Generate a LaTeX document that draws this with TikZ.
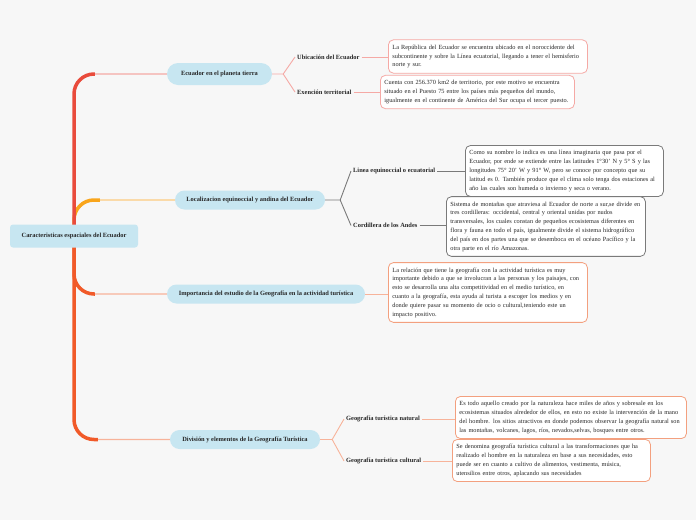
\documentclass[tikz,border=0pt]{standalone}
\usepackage{fontspec}
\setmainfont{Liberation Serif}
\usetikzlibrary{positioning,backgrounds}
\definecolor{bgc}{HTML}{F7F7F7}
\definecolor{topicc}{HTML}{C7E6F1}
\definecolor{trunkred}{HTML}{E94B3C}
\definecolor{trunkorange}{HTML}{F15A29}
\definecolor{trunkyellow}{HTML}{F9A51B}
\definecolor{pinkline}{HTML}{F5A9A5}
\definecolor{yellowline}{HTML}{FCCB80}
\definecolor{grayline}{HTML}{7A7A7A}
\definecolor{salmonline}{HTML}{F7B39A}
\definecolor{salmonbox}{HTML}{F3A07F}
\begin{document}
\begin{tikzpicture}[x=1pt, y=-1pt,
   font=\fontsize{6.3}{8.8}\selectfont,
   topic/.style={fill=topicc, text=black!85, font=\fontsize{6.4}{7}\selectfont\bfseries,
     inner xsep=8, minimum height=19, rounded corners=9.5},
   sublabel/.style={font=\fontsize{6.4}{7}\selectfont\bfseries, text=black!85, inner sep=2, anchor=west},
   note/.style={draw=#1, fill=white, rounded corners=5, line width=0.8, inner xsep=4, inner ysep=5,
     align=left, anchor=west, text=black!85},
   link/.style={draw=#1, line width=1.2, rounded corners=20},
   sublink/.style={draw=#1, line width=0.9},
   trunk/.style={draw=#1, line width=3.5, rounded corners=20}]

  % root and main topics
  \node[fill=topicc, rounded corners=3, minimum width=128, minimum height=23, text=black!85,
    font=\fontsize{6.4}{7}\selectfont\bfseries] (root) at (74,236) {Caracteristicas espaciales del Ecuador};
  \node[topic, minimum width=105, minimum height=22, rounded corners=11] (b1) at (219.5,74) {Ecuador en el planeta tierra};
  \node[topic, minimum width=150] (b2) at (250,200) {Localizacion equinoccial y andina del Ecuador};
  \node[topic, minimum width=198] (b3) at (266,294) {Importancia del estudio de la Geografía en la actividad turística};
  \node[topic, minimum width=150] (b4) at (245,439.5) {División y elementos de la Geografía Turística};

  % sub topics
  \node[sublabel] (s11) at (295,57) {Ubicación del Ecuador};
  \node[sublabel] (s12) at (295,92) {Exención territorial};
  \node[sublabel] (s21) at (351,171) {Linea equinoccial o ecuatorial};
  \node[sublabel] (s22) at (351,225.5) {Cordillera de los Andes};
  \node[sublabel] (s41) at (344,419) {Geografía turística natural};
  \node[sublabel] (s42) at (344,461) {Geografía turística cultural};

  % notes
  \node[note=pinkline, text width=191] (d11) at (388,56.5) {La República del Ecuador se encuentra ubicado en el noroccidente del\\
    subcontinente y  sobre la Línea ecuatorial, llegando a tener el hemisferio\\
    norte y sur.};
  \node[note=pinkline, text width=186] (d12) at (380,92) {Cuenta con 256.370 km2 de territorio, por este motivo se encuentra\\
    situado en el Puesto 75 entre los países más pequeños del mundo,\\
    igualmente en el continente de América del Sur ocupa el tercer puesto.};
  \node[note=grayline, text width=190] (d21) at (465,171) {Como su nombre lo indica es una línea imaginaria que pasa por el\\
    Ecuador, por ende se extiende entre las latitudes 1°30' N y 5° S y las\\
    longitudes 75° 20' W  y 91° W, pero se conoce por concepto que su\\
    latitud es 0. También produce que el clima solo tenga dos estaciones al\\
    año las cuales son humeda o invierno y seca o verano.};
  \node[note=grayline, text width=191] (d22) at (446,226.5) {Sistema de montañas que atraviesa al Ecuador de norte a sur,se divide en\\
    tres cordilleras: occidental, central y oriental unidas por nudos\\
    transversales, los cuales constan de pequeños ecosistemas diferentes en\\
    flora y fauna en todo el país, igualmente divide el sistema hidrográfico\\
    del país en dos partes una que se desemboca en el océano Pacífico y la\\
    otra parte en el río Amazonas.};
  \node[note=salmonbox, text width=191] (d3) at (388,292.5) {La relación que tiene la geografía con la actividad turística es muy\\
    importante debido a que se involucran a las personas y los paisajes, con\\
    esto se desarrolla una alta competitividad  en el medio turístico, en\\
    cuanto a la geografía, esta ayuda al turista a escoger los medios y en\\
    donde quiere pasar su momento de ocio o cultural,teniendo este un\\
    impacto positivo.};
  \node[note=salmonbox, text width=223] (d41) at (455,417.5) {Es todo aquello creado por la naturaleza hace miles de años y sobresale en los\\
    ecosistemas situados alrededor de ellos, en esto no existe la intervención de la mano\\
    del hombre. los sitios atractivos en donde podemos observar la geografía natural son\\
    las montañas, volcanes, lagos, ríos, nevados,selvas, bosques entre otros.};
  \node[note=salmonbox, text width=190] (d42) at (452,460.5) {Se denomina geografía turística cultural a las transformaciones que ha\\
    realizado el hombre en la naturaleza en base a sus necesidades, esto\\
    puede ser en cuanto a cultivo de alimentos, vestimenta, música,\\
    utensilios entre otros, aplacando sus necesidades};

  \begin{pgfonlayer}{background}
    \fill[bgc] (0,0) rectangle (696,520);
    % branches from the trunk
    \draw[link=pinkline] (b1.west) -| (root.center);
    \draw[link=yellowline] (b2.west) -| (root.center);
    \draw[link=salmonline] (b3.west) -| (root.center);
    \draw[link=salmonline] (b4.west) -| (root.center);
    \draw[trunk=trunkyellow] ([xshift=-75]b2.west) -| (root.center);
    \draw[trunk=trunkred] ([xshift=-72]b1.west) -| (root.center);
    \draw[trunk=trunkorange] ([xshift=-72]b3.west) -| (root.center);
    \draw[trunk=trunkorange] ([xshift=-72]b4.west) -| (root.center);
    % forks
    \coordinate (f1) at ([xshift=11]b1.east);
    \coordinate (f2) at ([xshift=15]b2.east);
    \coordinate (f4) at ([xshift=12]b4.east);
    \draw[sublink=pinkline] (b1.east) -- (f1) -- (s11.west);
    \draw[sublink=pinkline] (f1) -- (s12.west);
    \draw[sublink=grayline] (b2.east) -- (f2) -- (s21.west);
    \draw[sublink=grayline] (f2) -- (s22.west);
    \draw[sublink=salmonline] (b4.east) -- (f4) -- (s41.west);
    \draw[sublink=salmonline] (f4) -- (s42.west);
    % to the notes
    \draw[sublink=pinkline] (s11.east) -- (s11.east -| d11.west);
    \draw[sublink=pinkline] (s12.east) -- (s12.east -| d12.west);
    \draw[sublink=grayline] (s21.east) -- (s21.east -| d21.west);
    \draw[sublink=grayline] (s22.east) -- (s22.east -| d22.west);
    \draw[sublink=salmonline] (b3.east) -- (b3.east -| d3.west);
    \draw[sublink=salmonline] (s41.east) -- (s41.east -| d41.west);
    \draw[sublink=salmonline] (s42.east) -- (s42.east -| d42.west);
  \end{pgfonlayer}
  \useasboundingbox (0,0) rectangle (696,520);
\end{tikzpicture}
\end{document}
